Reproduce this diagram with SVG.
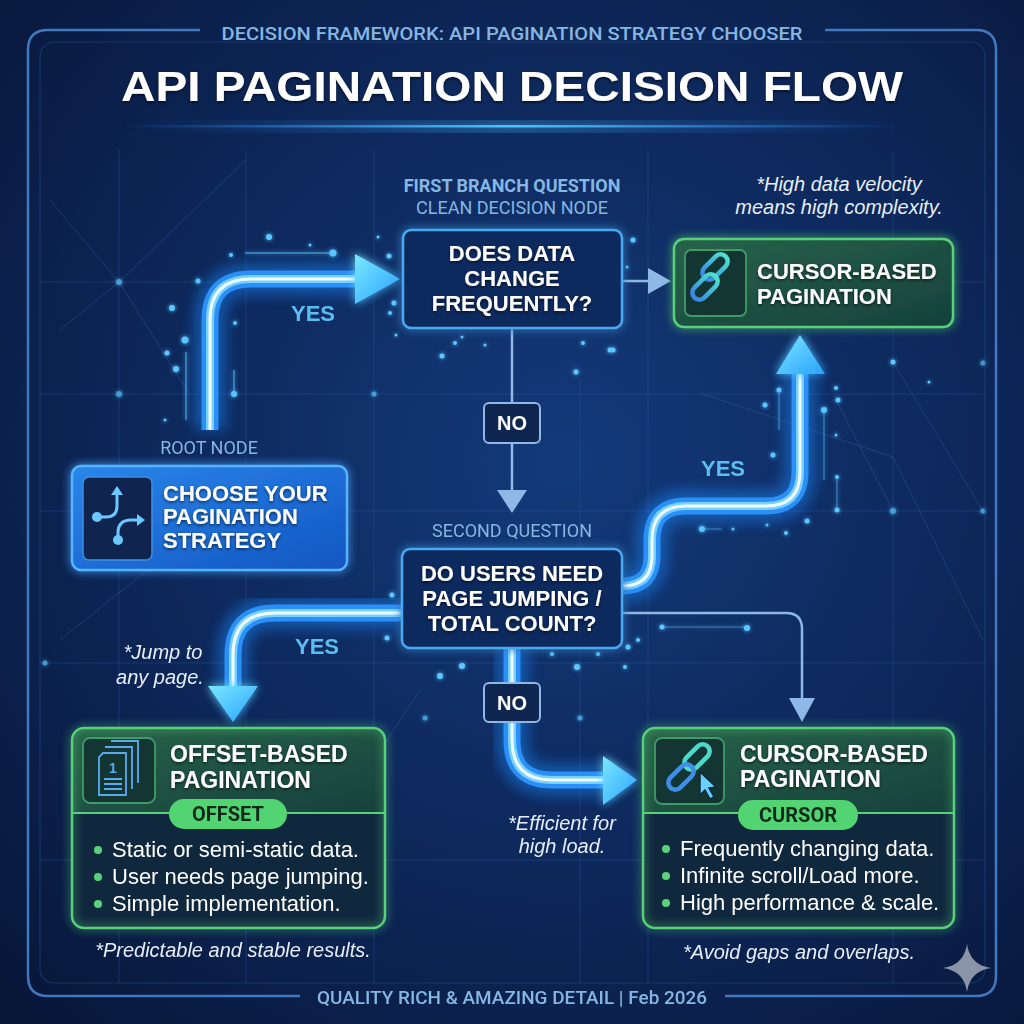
<svg xmlns="http://www.w3.org/2000/svg" width="1024" height="1024" viewBox="0 0 1024 1024">
<defs>
  <radialGradient id="bg" cx="0.55" cy="0.45" r="0.75">
    <stop offset="0" stop-color="#133a7a"/>
    <stop offset="0.55" stop-color="#0d2759"/>
    <stop offset="1" stop-color="#08173a"/>
  </radialGradient>
  <linearGradient id="titleLine" x1="0" x2="1" y1="0" y2="0">
    <stop offset="0" stop-color="#2a8cff" stop-opacity="0"/>
    <stop offset="0.5" stop-color="#4cc4ff" stop-opacity="1"/>
    <stop offset="1" stop-color="#2a8cff" stop-opacity="0"/>
  </linearGradient>
  <linearGradient id="rootFill" x1="0" y1="0" x2="1" y2="1">
    <stop offset="0" stop-color="#2a86ea"/>
    <stop offset="1" stop-color="#1256c2"/>
  </linearGradient>
  <linearGradient id="greenHead" x1="0" y1="0" x2="1" y2="1">
    <stop offset="0" stop-color="#27634a"/>
    <stop offset="1" stop-color="#16403c"/>
  </linearGradient>
  <linearGradient id="arrowFill" x1="0" y1="0" x2="1" y2="1">
    <stop offset="0" stop-color="#7ae8ff"/>
    <stop offset="1" stop-color="#2aa2ff"/>
  </linearGradient>
  <linearGradient id="chainA" x1="0" y1="0" x2="0" y2="1">
    <stop offset="0" stop-color="#4ee0d0"/>
    <stop offset="1" stop-color="#3a86e6"/>
  </linearGradient>
  <filter id="blur8" x="-20%" y="-20%" width="140%" height="140%">
    <feGaussianBlur stdDeviation="7"/>
  </filter>
  <filter id="glow" x="-30%" y="-30%" width="160%" height="160%">
    <feGaussianBlur in="SourceGraphic" stdDeviation="5" result="b"/>
    <feMerge><feMergeNode in="b"/><feMergeNode in="SourceGraphic"/></feMerge>
  </filter>
  <filter id="dotGlow" x="-200%" y="-200%" width="500%" height="500%">
    <feGaussianBlur in="SourceGraphic" stdDeviation="2" result="b"/>
    <feMerge><feMergeNode in="b"/><feMergeNode in="SourceGraphic"/></feMerge>
  </filter>
  <filter id="tshadow" x="-10%" y="-30%" width="120%" height="160%">
    <feDropShadow dx="0" dy="1.5" stdDeviation="1.5" flood-color="#000" flood-opacity="0.6"/>
  </filter>
  <style>
    .cap{font-family:"Roboto","Liberation Sans",sans-serif;font-weight:500;fill:#86b6e2}
    .hd{font-family:"Liberation Sans","Arial",sans-serif;font-weight:700;fill:#ffffff}
    .lbl{font-family:"Roboto","Liberation Sans",sans-serif;font-size:18px;fill:#86b6e2;text-anchor:middle}
    .note{font-family:"Liberation Sans","Arial",sans-serif;font-style:italic;font-size:20px;fill:#e6eef8;text-anchor:middle}
    .body{font-family:"Liberation Sans","Arial",sans-serif;font-size:22px;fill:#ffffff}
    .yes{font-family:"Liberation Sans","Arial",sans-serif;font-weight:700;font-size:22px;fill:#5cbdf0;text-anchor:middle}
    .no{font-family:"Liberation Sans","Arial",sans-serif;font-weight:700;font-size:20px;fill:#ffffff;text-anchor:middle}
    .nobox{fill:#0e2650;stroke:#8fb8e6;stroke-width:2}
    .qbox{fill:#0f2c5e;stroke:#4aa8f2;stroke-width:2.5}
    .gbox{stroke:#58d07a;stroke-width:2.5}
    .pill{fill:#52d472}
    .pilltx{font-family:"Roboto","Liberation Sans",sans-serif;font-weight:700;font-size:20px;fill:#0f2a1a;text-anchor:middle}
    .bullet{fill:#5ad27a}
    .tg{fill:none;stroke:#1a8cff;stroke-width:32;opacity:0.45;filter:url(#blur8)}
    .tb{fill:none;stroke:#2b8ff8;stroke-width:17}
    .tm{fill:none;stroke:#78d0ff;stroke-width:8}
    .tc{fill:none;stroke:#effcff;stroke-width:3}
    .thin{fill:none;stroke:#8fb8e6;stroke-width:2.5}
    .thinHead{fill:#8fb8e6}
    .head{fill:url(#arrowFill)}
    .grid{stroke:#2d5da8;stroke-width:1;opacity:0.35;fill:none}
    .net{stroke:#3a6ab8;stroke-width:1;opacity:0.35;fill:none}
    .dot{fill:#5cc8ff}
    .ibox{fill:#0f2550;stroke:#3f8fe0;stroke-width:1.5}
    .gibox{fill:#143632;stroke:#3f9c68;stroke-width:1.8}
  </style>
</defs>

<!-- background -->
<rect x="0" y="0" width="1024" height="1024" fill="url(#bg)"/>
<g id="grid">
  <path class="grid" d="M119 150 V983 M246 150 V983 M374 150 V983 M580 380 V983 M648 150 V983 M893 150 V983 M40 282 H985 M40 394 H985 M40 511 H985 M40 663 H985 M40 860 H985"/>
  <path class="net" d="M50 200 L119 282 L246 160 M119 282 L190 395 M119 282 L60 330 M893 362 L983 511 M700 393 L893 457 M893 457 L983 640 M60 640 L160 560 M836 400 L893 511 M420 690 L374 760"/>
  <g filter="url(#dotGlow)" opacity="0.7">
    <circle class="dot" cx="119" cy="282" r="3"/><circle class="dot" cx="119" cy="394" r="3"/>
    <circle class="dot" cx="374" cy="394" r="2.5"/><circle class="dot" cx="893" cy="511" r="3"/>
    <circle class="dot" cx="983" cy="511" r="2.5"/><circle class="dot" cx="983" cy="363" r="2.5"/>
    <circle class="dot" cx="580" cy="718" r="2.5"/><circle class="dot" cx="425" cy="718" r="2.5"/>
    <circle class="dot" cx="648" cy="582" r="2"/><circle class="dot" cx="45" cy="663" r="2.5"/>
  </g>
</g>

<!-- frame -->
<g id="frame">
  <path d="M200 30 H48 Q28 30 28 50 V976 Q28 996 48 996 H300 M725 996 H976 Q996 996 996 976 V50 Q996 30 976 30 H825" fill="none" stroke="#4279be" stroke-width="2.5"/>
  <rect x="40" y="42" width="945" height="941" rx="14" fill="none" stroke="#2a5590" stroke-width="1.2" opacity="0.45"/>
</g>

<!-- titles -->
<g id="header">
  <text class="cap" x="512" y="40" font-size="18" text-anchor="middle" textLength="581" lengthAdjust="spacingAndGlyphs">DECISION FRAMEWORK: API PAGINATION STRATEGY CHOOSER</text>
  <text class="hd" x="512" y="101" font-size="43" text-anchor="middle" textLength="782" lengthAdjust="spacingAndGlyphs" filter="url(#tshadow)">API PAGINATION DECISION FLOW</text>
  <rect x="118" y="122" width="784" height="9" fill="url(#titleLine)" opacity="0.6" filter="url(#blur8)"/>
  <rect x="118" y="125" width="784" height="2.5" fill="url(#titleLine)"/>
</g>

<!-- particles -->
<g id="particles" filter="url(#dotGlow)">
  <circle class="dot" cx="389" cy="256" r="2.5"/><circle class="dot" cx="394" cy="303" r="2.5"/>
  <circle class="dot" cx="417" cy="258" r="2"/><circle class="dot" cx="455" cy="343" r="2"/>
  <circle class="dot" cx="442" cy="356" r="2.5"/><circle class="dot" cx="462" cy="337" r="1.5"/>
  <circle class="dot" cx="485" cy="345" r="1.5"/><circle class="dot" cx="599" cy="240" r="2"/>
  <circle class="dot" cx="610" cy="350" r="2.5"/><circle class="dot" cx="583" cy="343" r="2"/>
  <circle class="dot" cx="576" cy="372" r="2.5"/><circle class="dot" cx="601" cy="270" r="2.5"/>
  <circle class="dot" cx="390" cy="313" r="2"/><circle class="dot" cx="396" cy="335" r="1.5"/>
  <circle class="dot" cx="378" cy="237" r="1.5"/><circle class="dot" cx="410" cy="290" r="1.5"/>
  <circle class="dot" cx="269" cy="237" r="3"/><circle class="dot" cx="231" cy="255" r="2"/>
  <circle class="dot" cx="333" cy="253" r="3.5"/><circle class="dot" cx="198" cy="281" r="2.5"/>
  <circle class="dot" cx="172" cy="308" r="3"/><circle class="dot" cx="185" cy="340" r="3.5"/>
  <circle class="dot" cx="167" cy="353" r="2.5"/><circle class="dot" cx="176" cy="369" r="3"/>
  <circle class="dot" cx="235" cy="323" r="2"/><circle class="dot" cx="234" cy="394" r="3"/>
  <circle class="dot" cx="310" cy="245" r="1.5"/><circle class="dot" cx="165" cy="420" r="1.5"/>
  <path d="M245 253 H330 M234 370 V392 M186 352 V420" stroke="#5cc8ff" stroke-width="1.5" opacity="0.6"/>
  <circle class="dot" cx="412" cy="618" r="2.5"/><circle class="dot" cx="417" cy="636" r="3"/>
  <circle class="dot" cx="387" cy="638" r="2.5"/><circle class="dot" cx="392" cy="595" r="2.5"/>
  <circle class="dot" cx="440" cy="676" r="3"/><circle class="dot" cx="462" cy="666" r="3"/>
  <circle class="dot" cx="577" cy="667" r="3"/><circle class="dot" cx="552" cy="654" r="2"/>
  <circle class="dot" cx="598" cy="654" r="2"/><circle class="dot" cx="628" cy="647" r="2.5"/>
  <circle class="dot" cx="625" cy="667" r="2"/><circle class="dot" cx="638" cy="640" r="2"/>
  <circle class="dot" cx="662" cy="627" r="2.5"/><circle class="dot" cx="747" cy="628" r="3"/>
  <circle class="dot" cx="702" cy="529" r="3"/><circle class="dot" cx="733" cy="529" r="1.5"/>
  <circle class="dot" cx="767" cy="525" r="1.5"/><circle class="dot" cx="786" cy="533" r="2"/>
  <circle class="dot" cx="807" cy="521" r="2.5"/>
  <path d="M662 627 H747 M702 529 H722" stroke="#5cc8ff" stroke-width="1.2" opacity="0.5"/>
  <circle class="dot" cx="779" cy="390" r="2.5"/><circle class="dot" cx="765" cy="405" r="2.5"/>
  <circle class="dot" cx="836" cy="388" r="2"/><circle class="dot" cx="838" cy="400" r="2.5"/>
  <circle class="dot" cx="824" cy="410" r="3"/><circle class="dot" cx="836" cy="435" r="1.5"/>
  <circle class="dot" cx="773" cy="455" r="2.5"/><circle class="dot" cx="837" cy="477" r="2"/>
  <circle class="dot" cx="837" cy="510" r="2.5"/><circle class="dot" cx="893" cy="362" r="2.5"/>
  <circle class="dot" cx="929" cy="382" r="1.5"/><circle class="dot" cx="633" cy="240" r="2.5"/>
  <circle class="dot" cx="627" cy="267" r="1.5"/><circle class="dot" cx="613" cy="350" r="2.5"/>
  <path d="M779 392 V430 M824 412 V480 M837 477 V510" stroke="#5cc8ff" stroke-width="1.2" opacity="0.5"/>
</g>

<!-- connectors -->
<g id="connectors">
  <!-- root -> Q1 (YES) -->
  <path class="tg" d="M210 430 V320 Q210 279 251 279 H358"/>
  <path class="tb" d="M210 430 V320 Q210 279 251 279 H358"/>
  <path class="tm" d="M210 430 V320 Q210 279 251 279 H358"/>
  <path class="tc" d="M210 430 V320 Q210 279 251 279 H358"/>
  <polygon class="head" filter="url(#glow)" points="355,254 400,279 355,304"/>
  <text class="yes" x="313" y="321">YES</text>

  <!-- Q1 -> cursor top -->
  <path class="thin" d="M622 281 H650"/>
  <polygon class="thinHead" points="648,268 671,281 648,294"/>

  <!-- Q1 -> Q2 (NO) -->
  <path class="thin" d="M512 328 V403 M512 443 V492"/>
  <polygon class="thinHead" points="497,490 512,513 527,490"/>
  <rect class="nobox" x="484" y="403" width="56" height="40" rx="5"/>
  <text class="no" x="512" y="430">NO</text>

  <!-- Q2 -> cursor top (YES) -->
  <path class="tg" d="M622 586 Q652 586 652 556 V540 Q652 506 686 506 H766 Q800 506 800 472 V372"/>
  <path class="tb" d="M622 586 Q652 586 652 556 V540 Q652 506 686 506 H766 Q800 506 800 472 V372"/>
  <path class="tm" d="M622 586 Q652 586 652 556 V540 Q652 506 686 506 H766 Q800 506 800 472 V372"/>
  <path class="tc" d="M622 586 Q652 586 652 556 V540 Q652 506 686 506 H766 Q800 506 800 472 V372"/>
  <polygon class="head" filter="url(#glow)" points="776,374 800,335 825,374"/>
  <text class="yes" x="723" y="476">YES</text>

  <!-- Q2 -> offset (YES) -->
  <path class="tg" d="M402 613 H275 Q233 613 233 655 V688"/>
  <path class="tb" d="M402 613 H275 Q233 613 233 655 V688"/>
  <path class="tm" d="M402 613 H275 Q233 613 233 655 V688"/>
  <path class="tc" d="M402 613 H275 Q233 613 233 655 V688"/>
  <polygon class="head" filter="url(#glow)" points="208,686 233,722 258,686"/>
  <text class="yes" x="317" y="654">YES</text>

  <!-- Q2 -> right thin arrow -->
  <path class="thin" d="M622 613 H786 Q802 613 802 629 V700"/>
  <polygon class="thinHead" points="789,698 802,722 815,698"/>

  <!-- Q2 -> cursor bottom (NO) -->
  <path class="tg" d="M512 648 V740 Q512 780 552 780 H605"/>
  <path class="tb" d="M512 648 V740 Q512 780 552 780 H605"/>
  <path class="tm" d="M512 648 V740 Q512 780 552 780 H605"/>
  <path class="tc" d="M512 648 V740 Q512 780 552 780 H605"/>
  <polygon class="head" filter="url(#glow)" points="603,756 637,780 603,805"/>
  <rect class="nobox" x="484" y="683" width="56" height="39" rx="5"/>
  <text class="no" x="512" y="710">NO</text>
</g>

<!-- root node -->
<g id="root">
  <text class="lbl" x="209" y="454">ROOT NODE</text>
  <rect x="72" y="466" width="275" height="104" rx="9" fill="url(#rootFill)" stroke="#56b4ff" stroke-width="2.5" filter="url(#glow)"/>
  <rect class="ibox" x="83" y="477" width="69" height="83" rx="6"/>
  <g fill="none" stroke="#6ac8ff" stroke-width="3" stroke-linecap="round">
    <path d="M97 517 H106 Q117 517 117 506 V494"/>
    <path d="M118 540 V533 Q118 520 131 520 H138"/>
  </g>
  <g fill="#6ac8ff">
    <polygon points="111,495 117,486 123,495"/>
    <polygon points="137,514 145,520 137,526"/>
    <circle cx="97" cy="517" r="5"/>
    <circle cx="118" cy="540" r="5"/>
  </g>
  <g class="hd" font-size="22" filter="url(#tshadow)">
    <text x="163" y="501">CHOOSE YOUR</text>
    <text x="163" y="524">PAGINATION</text>
    <text x="163" y="548">STRATEGY</text>
  </g>
</g>

<!-- first question -->
<g id="q1">
  <text class="lbl" x="512" y="192" font-weight="700">FIRST BRANCH QUESTION</text>
  <text class="lbl" x="512" y="214">CLEAN DECISION NODE</text>
  <rect class="qbox" x="403" y="230" width="219" height="98" rx="8" filter="url(#glow)"/>
  <g class="hd" font-size="22" text-anchor="middle" filter="url(#tshadow)">
    <text x="512" y="261">DOES DATA</text>
    <text x="512" y="286">CHANGE</text>
    <text x="512" y="311">FREQUENTLY?</text>
  </g>
</g>

<!-- second question -->
<g id="q2">
  <text class="lbl" x="512" y="537">SECOND QUESTION</text>
  <rect class="qbox" x="402" y="549" width="220" height="99" rx="8" filter="url(#glow)"/>
  <g class="hd" font-size="22" text-anchor="middle" filter="url(#tshadow)">
    <text x="512" y="581">DO USERS NEED</text>
    <text x="512" y="606">PAGE JUMPING /</text>
    <text x="512" y="631">TOTAL COUNT?</text>
  </g>
</g>

<!-- cursor top -->
<g id="cursor-top">
  <text class="note" x="839" y="191">*High data velocity</text>
  <text class="note" x="839" y="214">means high complexity.</text>
  <rect class="gbox" x="674" y="239" width="279" height="88" rx="10" fill="url(#greenHead)" filter="url(#glow)"/>
  <rect class="gibox" x="685" y="250" width="61" height="66" rx="6"/>
  <g fill="none" stroke="url(#chainA)" stroke-width="4.5" stroke-linecap="round">
    <rect x="708" y="252" width="14" height="30" rx="7" transform="rotate(45 715 267)"/>
    <rect x="698" y="272" width="14" height="30" rx="7" transform="rotate(45 705 287)"/>
  </g>
  <g class="hd" font-size="22" filter="url(#tshadow)">
    <text x="757" y="279">CURSOR-BASED</text>
    <text x="757" y="304">PAGINATION</text>
  </g>
</g>

<!-- offset box -->
<g id="offset">
  <text class="note" x="163" y="659">*Jump to</text>
  <text class="note" x="160" y="684">any page.</text>
  <rect x="72" y="728" width="313" height="200" rx="12" fill="#10283e"/>
  <path d="M72 813 V740 Q72 728 84 728 H373 Q385 728 385 740 V813 Z" fill="url(#greenHead)"/>
  <rect class="gbox" x="72" y="728" width="313" height="200" rx="12" fill="none" filter="url(#glow)"/>
  <line x1="72" y1="813" x2="385" y2="813" stroke="#58d07a" stroke-width="2"/>
  <rect class="gibox" x="83" y="738" width="72" height="65" rx="7"/>
  <g fill="none" stroke="#5aaaf0" stroke-width="1.8">
    <path d="M111 741 H138 V783"/>
    <path d="M105 747 H132 V789"/>
    <path d="M103 753 H126 V795 H99 V757 Z" fill="#143632"/>
    <path d="M104 779 H122 M104 784 H122 M104 789 H122"/>
  </g>
  <text x="113" y="773" font-family="Liberation Sans, Arial, sans-serif" font-weight="700" font-size="14" fill="#5aaaf0" text-anchor="middle">1</text>
  <g class="hd" font-size="23" filter="url(#tshadow)">
    <text x="170" y="762">OFFSET-BASED</text>
    <text x="170" y="788">PAGINATION</text>
  </g>
  <rect class="pill" x="169" y="799" width="118" height="30" rx="15"/>
  <text class="pilltx" x="228" y="821">OFFSET</text>
  <circle class="bullet" cx="98" cy="850" r="4"/>
  <circle class="bullet" cx="98" cy="877" r="4"/>
  <circle class="bullet" cx="98" cy="904" r="4"/>
  <text class="body" x="112" y="857">Static or semi-static data.</text>
  <text class="body" x="112" y="884">User needs page jumping.</text>
  <text class="body" x="112" y="911">Simple implementation.</text>
  <text class="note" x="233" y="957">*Predictable and stable results.</text>
</g>

<!-- cursor bottom -->
<g id="cursor-bottom">
  <text class="note" x="562" y="830">*Efficient for</text>
  <text class="note" x="562" y="853">high load.</text>
  <rect x="643" y="728" width="311" height="200" rx="12" fill="#10283e"/>
  <path d="M643 813 V740 Q643 728 655 728 H942 Q954 728 954 740 V813 Z" fill="url(#greenHead)"/>
  <rect class="gbox" x="643" y="728" width="311" height="200" rx="12" fill="none" filter="url(#glow)"/>
  <line x1="643" y1="813" x2="954" y2="813" stroke="#58d07a" stroke-width="2"/>
  <rect class="gibox" x="655" y="738" width="69" height="66" rx="7"/>
  <g fill="none" stroke-width="4.5" stroke-linecap="round">
    <rect x="690" y="742" width="14" height="30" rx="7" transform="rotate(45 697 757)" stroke="#4edac8"/>
    <rect x="674" y="762" width="14" height="30" rx="7" transform="rotate(45 681 777)" stroke="#3f8ee8"/>
  </g>
  <polygon points="700,772 700,795 705,790 710,799 714,797 709,788 716,787" fill="#6ad0ff" stroke="#0f2a3a" stroke-width="1.5"/>
  <g class="hd" font-size="23" filter="url(#tshadow)">
    <text x="740" y="762">CURSOR-BASED</text>
    <text x="740" y="787">PAGINATION</text>
  </g>
  <rect class="pill" x="738" y="800" width="120" height="30" rx="15"/>
  <text class="pilltx" x="798" y="822">CURSOR</text>
  <circle class="bullet" cx="666" cy="849" r="4"/>
  <circle class="bullet" cx="666" cy="876" r="4"/>
  <circle class="bullet" cx="666" cy="903" r="4"/>
  <text class="body" x="680" y="856">Frequently changing data.</text>
  <text class="body" x="680" y="883">Infinite scroll/Load more.</text>
  <text class="body" x="680" y="910">High performance &amp; scale.</text>
  <text class="note" x="799" y="959">*Avoid gaps and overlaps.</text>
</g>

<!-- footer -->
<g id="footer">
  <text class="cap" x="512" y="1004" font-size="18" text-anchor="middle" textLength="390" lengthAdjust="spacingAndGlyphs">QUALITY RICH &amp; AMAZING DETAIL  | Feb 2026</text>
  <path d="M967 944 Q970 965 991 968 Q970 971 967 992 Q964 971 943 968 Q964 965 967 944 Z" fill="#8a94a8"/>
</g>
</svg>
